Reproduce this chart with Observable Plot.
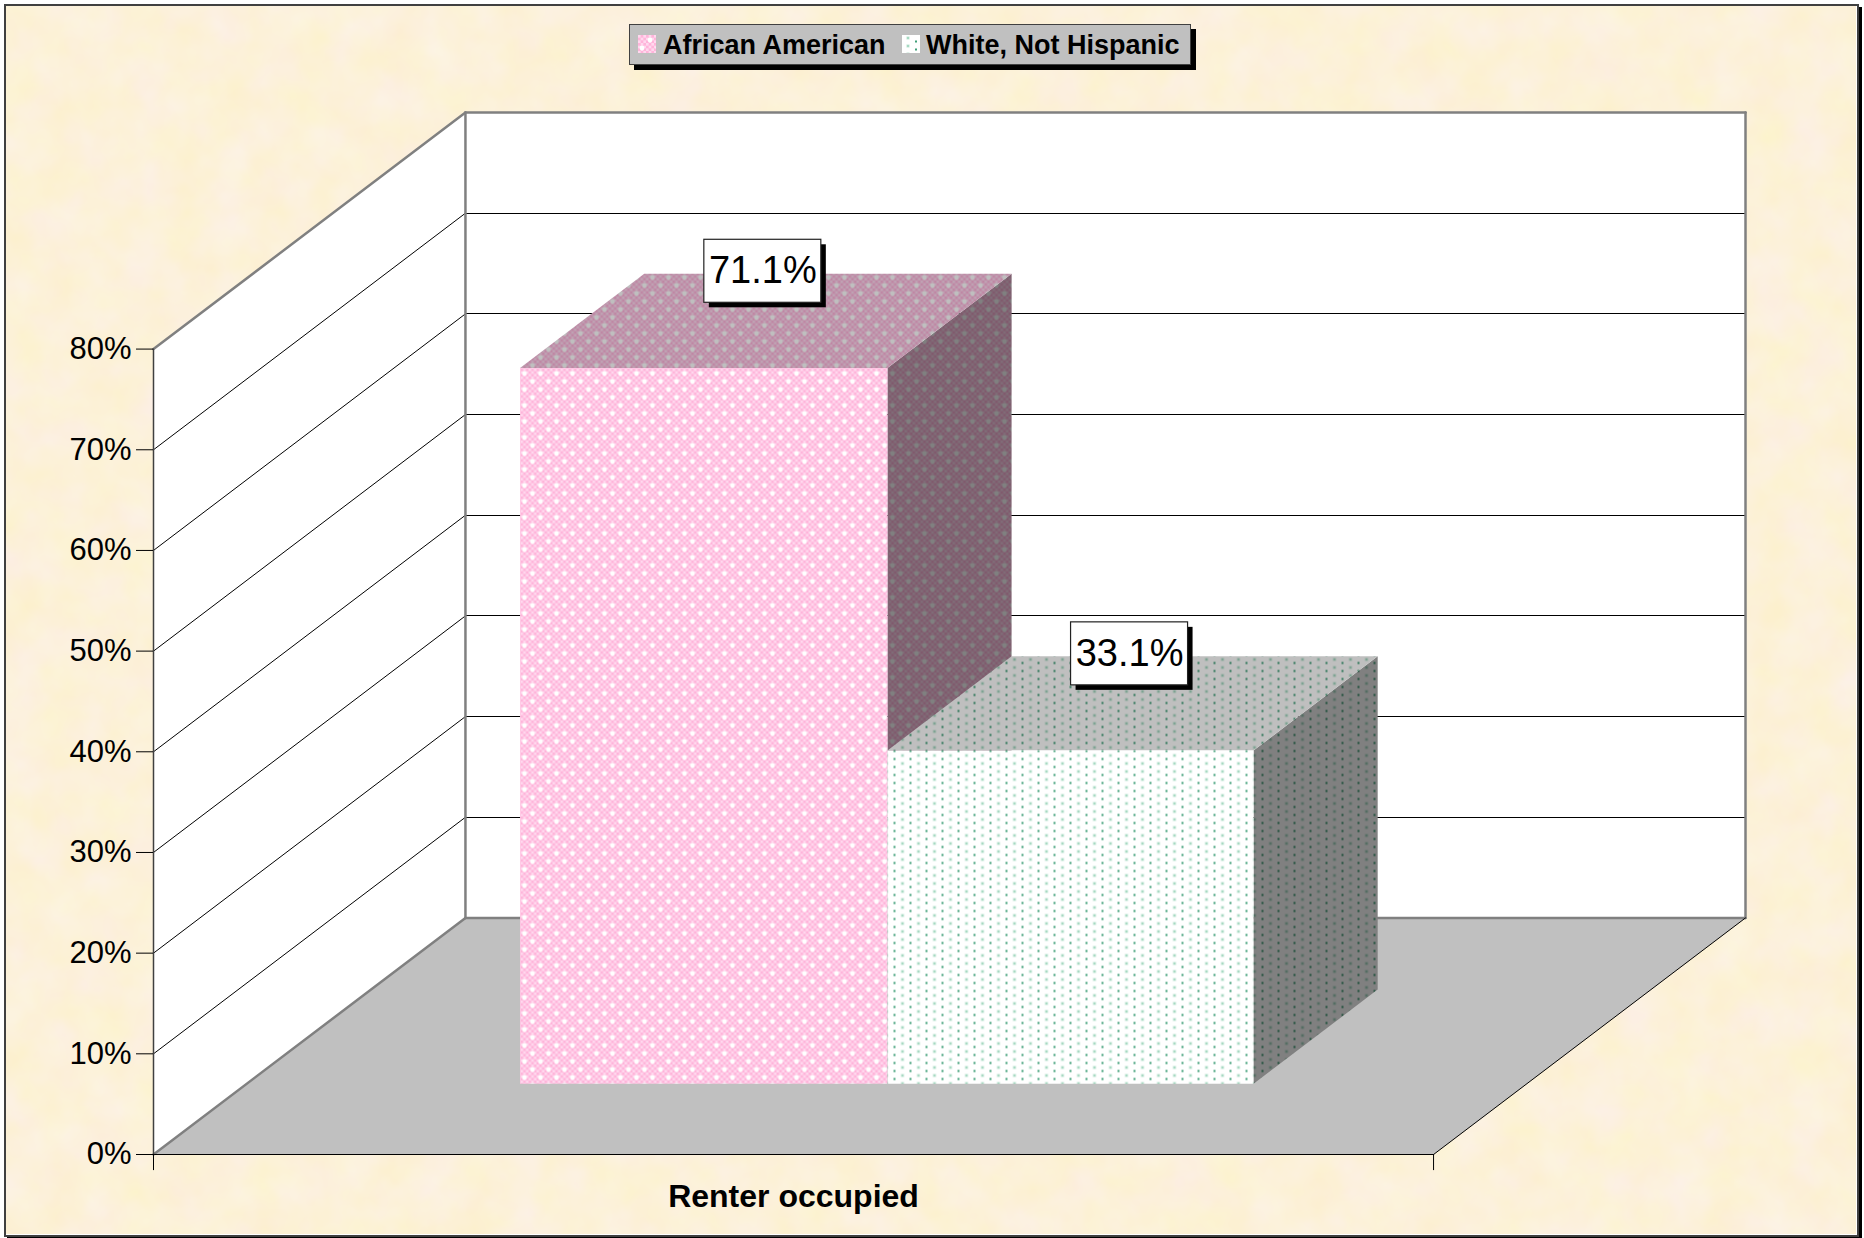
<!DOCTYPE html>
<html>
<head>
<meta charset="utf-8">
<script src="https://cdn.jsdelivr.net/npm/d3@7"></script>
<script src="https://cdn.jsdelivr.net/npm/@observablehq/plot@0.6"></script>
<style>
html,body{margin:0;padding:0;background:#fff;width:1864px;height:1238px;overflow:hidden;font-family:"Liberation Sans",Arial,sans-serif}
#stage{position:relative;width:1864px;height:1238px;overflow:hidden}
#paper{position:absolute;left:0;top:0}
#frame{position:absolute;left:4px;top:4px;width:1851px;height:1229px;border:2px solid #404040;box-shadow:3px 3px 0 #000}
#chart{position:absolute;left:0;top:0}
#chart svg{display:block}
#legend{position:absolute;left:629px;top:24px;width:560px;height:39px;background:#c0c0c0;border:1.5px solid #404040;box-shadow:5px 5px 0 #000;font-weight:bold;font-size:27px;color:#000}
#legend span{position:absolute;top:4px;white-space:nowrap;line-height:32px}
#legend svg{position:absolute;top:10px}
</style>
</head>
<body>
<div id="stage">
<svg id="paper" width="1864" height="1238">
  <filter id="parchment" x="0" y="0" width="100%" height="100%" color-interpolation-filters="sRGB">
    <feTurbulence type="fractalNoise" baseFrequency="0.024" numOctaves="3" seed="7"/>
    <feColorMatrix type="matrix" values="0 0 0 0 0.99  0.03 0 0 0 0.93  0 0.12 0 0 0.79  0 0 0 0 1"/>
  </filter>
  <rect x="5" y="5" width="1851" height="1229" filter="url(#parchment)"/>
</svg>
<div id="frame"></div>
<div id="chart"></div>
<div id="legend"></div>
</div>
<script>
// ---- chart values ----
const categories = ["Renter occupied"];
const seriesNames = ["African American", "White, Not Hispanic"];
const seriesValues = [71.1, 33.1];
const yTicks = [0, 10, 20, 30, 40, 50, 60, 70, 80];
const gridValues = [10, 20, 30, 40, 50, 60, 70];
const barEdges = [0.2135, 0.5005, 0.7865];   // category-axis positions of the two bars
const barDepth = [0.299, 0.697];             // depth-axis span of the bars
const axisDepthX = 0.2437;                   // oblique shift of the depth axis, in x units
const axisDepthY = 23.5;                     // oblique shift of the depth axis, in y units

// oblique projection: (x, value, depth) -> plot data
const P = (x, v, z) => [x + z * axisDepthX, v + z * axisDepthY];
const yMax = yTicks[yTicks.length - 1];

// shaded pattern fills
const shade = (c, f) => { const r = d3.rgb(c); return d3.rgb(r.r * f, r.g * f, r.b * f).formatRgb(); };
function patterns() {
  const defs = d3.create("svg:defs");
  [["f", 1], ["t", 0.75], ["s", 0.5]].forEach(([k, f]) => {
    const pink = defs.append("pattern").attr("id", "pink-" + k).attr("patternUnits", "userSpaceOnUse")
      .attr("width", 16).attr("height", 16);
    pink.append("rect").attr("width", 16).attr("height", 16).attr("fill", shade("#ffb4da", f));
    const cell = 16 / 6;
    for (let i = 0; i < 6; i++) for (let j = 0; j < 6; j++) if ((i + j) % 2 === 0)
      pink.append("rect").attr("x", i * cell).attr("y", j * cell).attr("width", cell).attr("height", cell)
        .attr("fill", shade("#ffd8ee", f));
    [[12, 5], [4, 13]].forEach(([x, y]) => {
      pink.append("circle").attr("cx", x).attr("cy", y).attr("r", 2.4).attr("fill", shade("#ffffff", f));
    });
    const white = defs.append("pattern").attr("id", "white-" + k).attr("patternUnits", "userSpaceOnUse")
      .attr("width", 16).attr("height", 8);
    white.append("rect").attr("width", 16).attr("height", 8).attr("fill", shade("#ffffff", f));
    white.append("rect").attr("x", 4.5).attr("y", 1.5).attr("width", 3).attr("height", 3).attr("fill", shade("#c4e6d6", f));
    white.append("rect").attr("x", 5.25).attr("y", 2.25).attr("width", 1.5).attr("height", 1.5).attr("fill", shade("#8fcfb3", f));
    white.append("rect").attr("x", 13).attr("y", 5.5).attr("width", 2).attr("height", 2).attr("fill", shade("#3f9f78", f));
  });
  return defs.node();
}

const poly = (pts, options) => Plot.line(pts, {x: d => d[0], y: d => d[1], stroke: "none", ...options});
const seg = (a, b, stroke, strokeWidth, shapeRendering) => Plot.line([a, b], {x: d => d[0], y: d => d[1], stroke, strokeWidth, shapeRendering});

// cuboid faces
const barMarks = seriesValues.flatMap((v, i) => {
  const id = i === 0 ? "pink" : "white";
  const [x0, x1] = [barEdges[i], barEdges[i + 1]];
  const [z0, z1] = barDepth;
  return [
    poly([P(x1, 0, z0), P(x1, 0, z1), P(x1, v, z1), P(x1, v, z0)], {fill: `url(#${id}-s)`}),
    poly([P(x0, v, z0), P(x1, v, z0), P(x1, v, z1), P(x0, v, z1)], {fill: `url(#${id}-t)`}),
    poly([P(x0, 0, z0), P(x1, 0, z0), P(x1, v, z0), P(x0, v, z0)], {fill: `url(#${id}-f)`})
  ];
});

// data labels
const pxX = (1 + axisDepthX) / 1592, pxY = (yMax + axisDepthY) / 1042;
const labels = seriesValues.map((v, i) => {
  const [u, w] = P((barEdges[i] + barEdges[i + 1]) / 2, v, barDepth[1]);
  const cx = u - (barDepth[1] - (barDepth[0] + barDepth[1]) / 2) * axisDepthX - 3 * pxX;
  const cy = w + 2.5 * pxY;
  return {v, cx, cy, x1: cx - 58.5 * pxX, x2: cx + 58.5 * pxX, y1: cy - 31.5 * pxY, y2: cy + 31.5 * pxY};
});

const chart = Plot.plot({
  width: 1864, height: 1238,
  marginLeft: 153, marginRight: 119, marginTop: 112, marginBottom: 84,
  x: {domain: [0, 1 + axisDepthX], axis: null},
  y: {domain: [0, yMax + axisDepthY], axis: null},
  style: {fontFamily: "'Liberation Sans', Arial, sans-serif", background: "transparent", color: "#000", overflow: "hidden"},
  marks: [
    patterns,
    // walls and floor
    poly([P(0, 0, 0), P(0, yMax, 0), P(0, yMax, 1), P(0, 0, 1)], {fill: "#fff"}),
    poly([P(0, 0, 1), P(1, 0, 1), P(1, yMax, 1), P(0, yMax, 1)], {fill: "#fff"}),
    poly([P(0, 0, 0), P(1, 0, 0), P(1, 0, 1), P(0, 0, 1)], {fill: "#c0c0c0"}),
    // gridlines
    ...gridValues.flatMap(v => [
      seg(P(0, v, 0), P(0, v, 1), "#000", 1),
      seg(P(0, v, 1), P(1, v, 1), "#000", 1, "crispEdges")
    ]),
    // wall outlines
    seg(P(0, yMax, 0), P(0, yMax, 1), "#808080", 2.5),
    seg(P(0, yMax, 1), P(1, yMax, 1), "#808080", 2.5),
    seg(P(1, yMax, 1), P(1, 0, 1), "#808080", 2.5),
    seg(P(0, 0, 1), P(0, yMax, 1), "#808080", 2.5),
    seg(P(0, 0, 1), P(1, 0, 1), "#808080", 2.5),
    seg(P(0, 0, 0), P(0, 0, 1), "#808080", 2.5),
    seg(P(1, 0, 0), P(1, 0, 1), "#000", 1),
    seg(P(0, 0, 0), P(1, 0, 0), "#000", 1.2),
    seg(P(0, 0, 0), P(0, yMax, 0), "#404040", 1.5),
    ...barMarks,
    // axes
    Plot.axisY({ticks: yTicks, tickFormat: d => d + "%", tickSize: 17, tickPadding: 5, fontSize: 31, label: null, stroke: "#000", fill: "#000"}),
    Plot.ruleX([0, 1], {y1: 0, y2: -1.6, stroke: "#000", strokeWidth: 1}),
    Plot.text(categories, {x: 0.5, y: -4.2, text: d => d, fontWeight: "bold", fontSize: 32, fill: "#000", lineAnchor: "middle"}),
    // data labels
    Plot.rect(labels, {x1: "x1", x2: "x2", y1: "y1", y2: "y2", fill: "#000", dx: 5, dy: 5}),
    Plot.rect(labels, {x1: "x1", x2: "x2", y1: "y1", y2: "y2", fill: "#fff", stroke: "#222", strokeWidth: 1.2}),
    Plot.text(labels, {x: "cx", y: "cy", text: d => d.v.toFixed(1) + "%", fontSize: 38, fill: "#000", lineAnchor: "middle"})
  ]
});
document.getElementById("chart").appendChild(chart);

// legend
const legend = d3.select("#legend");
[[8, 33, "pink-f"], [272, 296, "white-f"]].forEach(([sx, tx, id], i) => {
  legend.append("svg").attr("width", 18).attr("height", 18).style("left", sx + "px")
    .append("rect").attr("width", 18).attr("height", 18).attr("fill", `url(#${id})`);
  legend.append("span").style("left", tx + "px").text(seriesNames[i]);
});
</script>
</body>
</html>
